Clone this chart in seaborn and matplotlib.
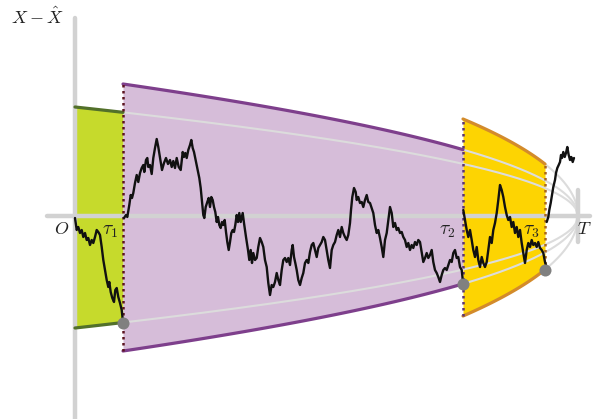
import numpy as np
import pandas as pd
import matplotlib
matplotlib.use("Agg")
import matplotlib.pyplot as plt
import seaborn as sns

# ---------------- data ----------------
T_END = 578                       # time T
taus = [75, 123, 463, 545]        # O, tau1, tau2, tau3
band_upper = [109, 132, 97]       # upper boundary value at start of each band
band_lower = [-112, -135, -100]   # lower boundary value at start of each band
band_names = ["O-tau1", "tau1-tau2", "tau2-tau3"]

seg0_t = [75, 76.7, 78.3, 80, 81.7, 83.3, 85, 86.7, 88.3, 90, 91.7, 93.3, 95, 96.7, 98.3, 100,
          101.7, 103.3, 105, 106.7, 108.3, 109.3, 110.7, 112.3, 114, 115.3, 116.7, 118.3, 120,
          121.7, 123]
seg0_v = [-2, -14, -11, -17, -14, -21, -17, -24, -22, -29, -24, -27, -21, -14, -16, -19,
          -31, -44, -54, -64, -71, -66, -76, -82, -86, -74, -72, -81, -87, -94, -106]

seg1_t = [124, 126, 127.3, 129.3, 130.7, 132, 133.3, 135, 136.7, 138.3, 140, 141.7, 143.3, 144.3,
          146, 147.3, 148.3, 150, 151.7, 153.3, 155, 156.7, 158.3, 159.3, 160.7, 162, 164, 166,
          168, 170, 171.7, 173.3, 175, 176.7, 178.7, 180.7, 182.7, 184, 185.3, 186.7, 188.3, 190,
          191.3, 192.7, 194, 196, 198, 199.3, 200.7, 202, 203.3, 204.3, 205.7, 207.3, 208.7, 210,
          211.3, 212.7, 214, 215.3, 216.7, 218, 219.3, 220.7, 222, 223.3, 224.7, 226, 227.3,
          228.7, 230, 231.3, 232.7, 234, 235.3, 236.7, 238, 239.3, 240.7, 242.7, 244, 246, 248,
          249.3, 250.7, 252, 253.3, 255, 256.7, 258.3, 260, 261.7, 263.3, 265, 266.7, 268.3, 270,
          271.7, 273.3, 275, 276.7, 278.3, 280, 281.7, 283.3, 285, 286.7, 288.3, 290, 291.7,
          292.7, 294, 295.3, 296.7, 298.3, 300, 301.7, 303.3, 305, 306.7, 308.3, 310, 311.7,
          313.3, 315, 316.7, 318.3, 320, 321.7, 323.3, 325, 326.7, 328.3, 330, 331.7, 333.3, 335,
          336.7, 338.3, 340, 341.7, 343.3, 345, 346.7, 348.3, 350, 351, 352.3, 354, 355.7, 356.7,
          358.3, 360, 361.7, 363.3, 365, 366.7, 368.3, 370, 371.7, 373.3, 375, 376.7, 378.3, 380,
          381.7, 383.3, 385, 386.7, 388.3, 390, 391.7, 393.3, 395, 396.7, 398.3, 400, 401.7,
          403.3, 405, 406.7, 408.3, 410, 411.7, 413.3, 415, 416.7, 418.3, 420, 421.7, 423.3, 425,
          426.7, 428.3, 430, 431.7, 433.3, 435, 436.7, 438.3, 440, 441.7, 443.3, 445, 446.7,
          448.3, 450, 451.7, 453.3, 455, 456.7, 458.3, 460, 461.7, 463]
seg1_v = [-2, 1, -1, 11, 21, 18, 23, 33, 41, 34, 43, 48, 51, 44,
          56, 58, 49, 51, 42, 58, 68, 77, 69, 63, 54, 46, 53, 58,
          52, 56, 49, 55, 48, 58, 49, 46, 64, 59, 63, 58, 66, 71,
          76, 68, 64, 54, 44, 38, 28, 14, 1, -2, 9, 14, 18, 9,
          19, 16, 9, 4, -6, -1, -9, -12, -6, -9, -4, -16, -26,
          -34, -26, -17, -14, -16, -9, 1, -6, 3, -6, 3, -7, -21, -34,
          -44, -34, -47, -37, -44, -42, -31, -22, -26, -31, -44, -51, -67, -79,
          -69, -71, -66, -57, -64, -69, -54, -44, -42, -46, -42, -49, -34,
          -29, -41, -47, -54, -64, -69, -62, -57, -47, -44, -47, -36, -29,
          -27, -34, -41, -32, -29, -26, -21, -24, -34, -44, -52, -34, -29, -26,
          -19, -14, -21, -11, -17, -21, -24, -19, -7, 6, 19, 28, 24, 16,
          19, 13, 14, 9, 16, 21, 14, 13, 8, 3, -9, -17, -14, -22,
          -31, -41, -24, -17, -4, 9, 3, -11, -7, -14, -12, -17, -16,
          -21, -24, -31, -27, -34, -29, -32, -26, -29, -24, -26, -36, -46, -42,
          -37, -42, -39, -34, -46, -54, -57, -61, -66, -59, -54, -52, -54,
          -49, -44, -46, -37, -34, -42, -41, -51, -54, -66]

seg2_t = [463.3, 465, 466.7, 468.3, 470, 471.7, 473.3, 475, 476.7, 478.3, 480, 481.7, 483.3, 485,
          486.7, 488.3, 490, 491.7, 493.3, 495, 496.7, 498.3, 500, 501.7, 503.3, 505, 506.7,
          508.3, 510, 511.7, 513.3, 515, 516.7, 518.3, 520, 521.7, 523.3, 525, 526.7, 528.3, 530,
          531.7, 533.3, 535, 536.7, 538.3, 540, 541.7, 543.3, 545, 546]
seg2_v = [6, -4, -14, -21, -14, -24, -34, -41, -31, -44, -51, -41, -47, -51,
          -46, -34, -21, -27, -14, -7, 3, 16, 31, 26, 19, 9, 1,
          -4, -1, -11, -6, -17, -11, -21, -14, -27, -37, -47, -34, -27, -31,
          -24, -29, -27, -31, -26, -32, -34, -37, -46, -49]

seg3_t = [546.7, 548.3, 549.3, 550.7, 552, 553.3, 555, 556, 557.3, 558.7, 560, 561, 562, 563.3,
          564.7, 566, 567.3, 568.7, 570, 571.3, 572.7, 574]
seg3_v = [-6, -1, 6, 13, 21, 29, 36, 43, 48, 51, 54, 61, 58, 64,
          59, 63, 69, 61, 56, 59, 54, 58]

labels = {"y": r"$X - \hat{X}$", "O": r"$O$", "tau1": r"$\tau_1$", "tau2": r"$\tau_2$",
          "tau3": r"$\tau_3$", "T": r"$T$"}

# ---------------- style ----------------
sns.set_style("white")
plt.rcParams["mathtext.fontset"] = "cm"

fill_cols = ["#c6da2c", "#d6bdd9", "#fdd402"]
edge_cols = ["#52702a", "#7e3f8c", "#d38b2b"]
dot_cols = ["#5c1420", "#5b3474", "#a8661d"]
axis_col = "#d2d2d2"
guide_col = "#dcdcdc"

fig = plt.figure(figsize=(5.95, 4.19), dpi=100)
ax = fig.add_axes([0, 0, 1, 1])
ax.set_xlim(0, 595)
ax.set_ylim(-203, 216)
ax.axis("off")


def boundary(a, t0, t):
    t = np.asarray(t, dtype=float)
    return a * np.sqrt((T_END - t) / (T_END - t0))


# bands
for i in range(3):
    t0, t1 = taus[i], taus[i + 1]
    tt = np.linspace(t0, t1, 120)
    up = boundary(band_upper[i], t0, tt)
    lo = boundary(band_lower[i], t0, tt)
    ax.fill_between(tt, lo, up, color=fill_cols[i], lw=0, zorder=1)
    df = pd.DataFrame({"t": np.r_[tt, tt], "v": np.r_[up, lo],
                       "side": ["up"] * len(tt) + ["lo"] * len(tt)})
    sns.lineplot(data=df, x="t", y="v", units="side", estimator=None, sort=False,
                 color=edge_cols[i], lw=2.3, ax=ax, zorder=4, legend=False)
    # grey continuation to T
    tc = np.linspace(t1, T_END, 200)
    for a in (band_upper[i], band_lower[i]):
        ax.plot(tc, boundary(a, t0, tc), color=guide_col, lw=1.5, zorder=2,
                solid_capstyle="round")

# axes (drawn as thick grey lines)
ax.plot([47, 590], [0, 0], color=axis_col, lw=3.2, zorder=2.5, solid_capstyle="round")
ax.plot([74.5, 74.5], [198, -210], color=axis_col, lw=3.2, zorder=2.5, solid_capstyle="round")
ax.plot([T_END, T_END], [26, -26], color=axis_col, lw=3.2, zorder=2.5, solid_capstyle="round")

# dotted vertical lines at the stopping times
for k in (1, 2, 3):
    tk = taus[k]
    if k < 3:
        top = band_upper[k]
        bot = band_lower[k]
    else:
        top = boundary(band_upper[2], taus[2], tk)
        bot = boundary(band_lower[2], taus[2], tk)
    ax.plot([tk, tk], [bot, top], color=dot_cols[k - 1], lw=1.8,
            linestyle=(0, (1, 1.4)), zorder=5)

# random walk
for st, sv in ((seg0_t, seg0_v), (seg1_t, seg1_v), (seg2_t, seg2_v), (seg3_t, seg3_v)):
    sns.lineplot(x=st, y=sv, sort=False, estimator=None, color="#111111", lw=1.7,
                 ax=ax, zorder=6)

# hitting points
hit_t = taus[1:]
hit_v = [boundary(band_lower[i], taus[i], taus[i + 1]) for i in range(3)]
ax.scatter(hit_t, hit_v, s=75, color="#808080", zorder=7, linewidths=0)

# labels
ax.text(37, 199, labels["y"], fontsize=13, ha="center", va="center", color="#222222")
ax.text(62, -13, labels["O"], fontsize=13, ha="center", va="center", color="#222222")
ax.text(110, -14, labels["tau1"], fontsize=14, ha="center", va="center", color="#222222", zorder=8)
ax.text(447, -14, labels["tau2"], fontsize=14, ha="center", va="center", color="#222222", zorder=8)
ax.text(531, -14, labels["tau3"], fontsize=14, ha="center", va="center", color="#222222", zorder=8)
ax.text(584, -13, labels["T"], fontsize=13, ha="center", va="center", color="#222222")

fig.savefig("out.png", dpi=100)
